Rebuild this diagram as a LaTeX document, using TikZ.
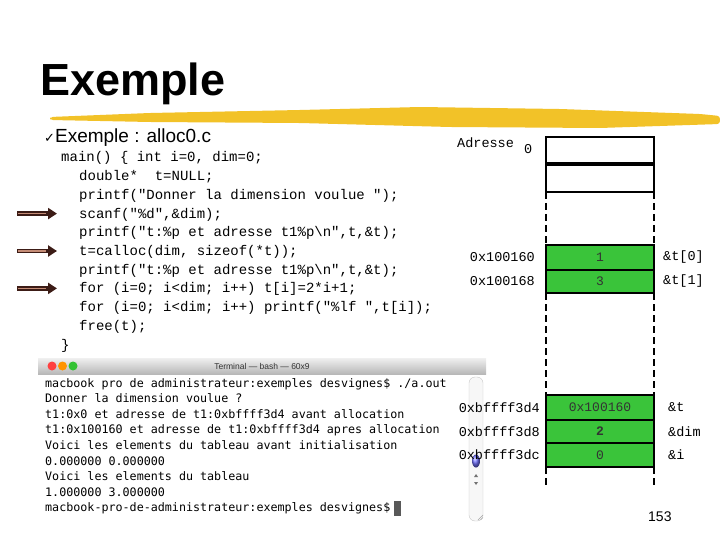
\documentclass[tikz,border=0pt]{standalone}
\usepackage{fontspec}
\setmainfont{Liberation Sans}
\setmonofont{Liberation Mono}
\newfontfamily\termfont{DejaVu Sans Mono}
\newfontfamily\symfont{DejaVu Sans}
\usetikzlibrary{positioning,arrows.meta}
\definecolor{cellgreen}{RGB}{58,196,58}
\definecolor{brush}{RGB}{242,194,40}
\definecolor{arrowdark}{RGB}{60,28,22}
\definecolor{arrowlight}{RGB}{196,140,118}
\tikzset{
  codeline/.style={anchor=base west,inner sep=0pt,font=\ttfamily\fontsize{14}{14}\selectfont},
  cell/.style={draw,line width=2pt,outer sep=0pt,minimum width=108pt,inner sep=0pt,
    font=\ttfamily\fontsize{13}{13}\selectfont,text=black!80},
  addr/.style={inner sep=0pt,font=\ttfamily\fontsize{13.5}{13.5}\selectfont},
  termline/.style={anchor=base west,inner sep=0pt,font=\termfont\fontsize{11.7}{11.7}\selectfont},
  pointer/.style={line width=4.5pt,draw=arrowdark,-{Triangle[length=9pt,width=11pt]}},
  gap/.style={line width=2pt,dash pattern=on 7pt off 4pt}
}
\begin{document}
\begin{tikzpicture}[x=1pt,y=-1pt]
  \useasboundingbox (0,0) rectangle (720,540);
  % title and brush stroke
  \fill[brush,rounded corners=3pt] (50,117) -- (150,113) -- (300,110) -- (420,107) -- (560,109)
    -- (700,114) -- (720,116) -- (720,124) -- (600,128) -- (450,127) -- (300,123) -- (150,122) -- (50,120) -- cycle;
  \node[anchor=base west,inner sep=0pt,font=\bfseries\fontsize{45}{45}\selectfont] (title) at (40,96) {Exemple};
  \node[anchor=base west,inner sep=0pt,font=\fontsize{19}{19}\selectfont] (sub) at (44,143)
    {{\symfont\fontsize{13}{13}\selectfont ✓}Exemple : alloc0.c};

  % code
  \node[codeline] (l1) at (61,162) {main() \{ int i=0, dim=0;};
  \node[codeline] (l2) at (79,180.7) {double*\ \ t=NULL;};
  \node[codeline] (l3) at (79,199.4) {printf("Donner la dimension voulue ");};
  \node[codeline] (l4) at (79,218.1) {scanf("\%d",\&dim);};
  \node[codeline] (l5) at (79,236.8) {printf("t:\%p et adresse t1\%p\textbackslash n",t,\&t);};
  \node[codeline] (l6) at (79,255.5) {t=calloc(dim, sizeof(*t));};
  \node[codeline] (l7) at (79,274.2) {printf("t:\%p et adresse t1\%p\textbackslash n",t,\&t);};
  \node[codeline] (l8) at (79,292.9) {for (i=0; i<dim; i++) t[i]=2*i+1;};
  \node[codeline] (l9) at (79,311.6) {for (i=0; i<dim; i++) printf("\%lf ",t[i]);};
  \node[codeline] (l10) at (79,330.3) {free(t);};
  \node[codeline] (l11) at (61,349) {\}};
  \foreach \n in {l4,l6,l8}{
    \draw[pointer] ([xshift=-62pt,yshift=4.5pt]\n.base west) -- ([xshift=-22pt,yshift=4.5pt]\n.base west);
    \draw[line width=1.2pt,arrowlight] ([xshift=-61pt,yshift=4.5pt]\n.base west) -- ([xshift=-33pt,yshift=4.5pt]\n.base west);
  }

  % terminal window
  \shade[top color=black!6,bottom color=black!28] (38,358) rectangle (486,374);
  \fill[red!75!white] (52,366) circle (4.5pt);
  \fill[orange!85!yellow] (62.5,366) circle (4.5pt);
  \fill[green!70!black!80] (73,366) circle (4.5pt);
  \node[font=\fontsize{8.5}{8.5}\selectfont,text=black!80] (termtitle) at (262,366) {Terminal — bash — 60x9};
  \node[termline] (t1) at (45,387) {macbook pro de administrateur:exemples desvignes\$ ./a.out};
  \node[termline] (t2) at (45,402.6) {Donner la dimension voulue ?};
  \node[termline] (t3) at (45,418.2) {t1:0x0 et adresse de t1:0xbffff3d4 avant allocation};
  \node[termline] (t4) at (45,433.8) {t1:0x100160 et adresse de t1:0xbffff3d4 apres allocation};
  \node[termline] (t5) at (45,449.4) {Voici les elements du tableau avant initialisation};
  \node[termline] (t6) at (45,465) {0.000000 0.000000};
  \node[termline] (t7) at (45,480.6) {Voici les elements du tableau};
  \node[termline] (t8) at (45,496.2) {1.000000 3.000000};
  \node[termline] (t9) at (45,511.8) {macbook-pro-de-administrateur:exemples desvignes\$};
  \node[fill=black!65,minimum width=7pt,minimum height=15pt,inner sep=0pt,right=3pt of t9] (cursor) {};
  % scroll bar
  \draw[black!22,fill=black!3,rounded corners=6pt] (469,377) rectangle (483,521);
  \shade[ball color=blue!55] (476,461) ellipse (4pt and 6.5pt);
  \fill[black!55] (474,477) -- (478,477) -- (476,474) -- cycle;
  \fill[black!55] (474,482) -- (478,482) -- (476,485) -- cycle;
  \draw[black!35] (478,520) -- (483,515) (480.5,520) -- (483,517.5);

  % memory
  \node[cell,minimum height=27pt,anchor=north] (m0) at (600,137) {};
  \node[cell,minimum height=28pt,below=0pt of m0] (m1) {};
  \draw[line width=4pt] (m0.south west) -- (m0.south east);
  \node[cell,fill=cellgreen,minimum height=25pt,anchor=north] (g0) at (600,245) {1};
  \node[cell,fill=cellgreen,minimum height=23pt,below=0pt of g0] (g1) {3};
  \node[cell,fill=cellgreen,minimum height=25pt,anchor=north] (s0) at (600,395) {0x100160};
  \node[cell,fill=cellgreen,minimum height=23pt,below=0pt of s0] (s1) {\bfseries 2};
  \node[cell,fill=cellgreen,minimum height=24pt,below=0pt of s1] (s2) {0};
  \draw[gap] (m1.south west) -- (g0.north west);
  \draw[gap] (m1.south east) -- (g0.north east);
  \draw[gap] (g1.south west) -- (s0.north west);
  \draw[gap] (g1.south east) -- (s0.north east);
  \draw[gap] (s2.south west) -- ([yshift=-21pt]s2.south west);
  \draw[gap] (s2.south east) -- ([yshift=-21pt]s2.south east);

  \node[addr,anchor=base west] (adr) at (457,148) {Adresse};
  \node[addr,anchor=base west] (zero) at (524,154) {0};
  \node[addr,left=11pt of g0] (a0) {0x100160};
  \node[addr,left=11pt of g1] (a1) {0x100168};
  \node[addr,left=6pt of s0] (b0) {0xbffff3d4};
  \node[addr,left=6pt of s1] (b1) {0xbffff3d8};
  \node[addr,left=6pt of s2] (b2) {0xbffff3dc};
  \node[addr,right=9pt of g0] (r0) {\&t[0]};
  \node[addr,right=9pt of g1] (r1) {\&t[1]};
  \node[addr,right=14pt of s0] (q0) {\&t};
  \node[addr,right=14pt of s1] (q1) {\&dim};
  \node[addr,right=14pt of s2] (q2) {\&i};

  \node[anchor=base west,inner sep=0pt,font=\fontsize{14}{14}\selectfont] (page) at (648,521) {153};
\end{tikzpicture}
\end{document}
